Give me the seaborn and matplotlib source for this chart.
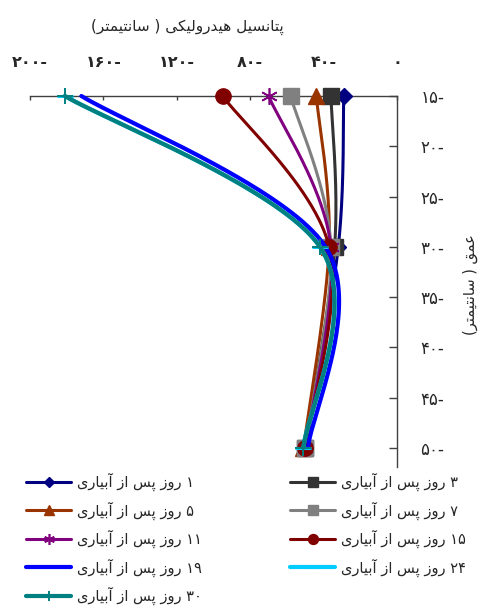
import numpy as np
import pandas as pd
import matplotlib
matplotlib.use("Agg")
import matplotlib.pyplot as plt
from matplotlib.lines import Line2D
import seaborn as sns

# ---------------- data ----------------
depths = [15, 30, 50]
day_labels = ["۱", "۳", "۵", "۷", "۱۱", "۱۵", "۱۹", "۲۴", "۳۰"]
pot_1 = [-29, -32, -50]
pot_3 = [-36, -34, -50]
pot_5 = [-44, -37, -51]
pot_7 = [-58, -36, -50]
pot_11 = [-70, -36, -50]
pot_15 = [-95, -37, -50]
pot_19 = [-172, -39, -48.5]
pot_24 = [-181, -42, -51]
pot_30 = [-181, -42, -51]
x_ticks = [-200, -160, -120, -80, -40, 0]
y_ticks = [15, 20, 25, 30, 35, 40, 45, 50]

title_text = "پتانسیل هیدرولیکی ( سانتیمتر)"
ylabel_text = "عمق ( سانتیمتر)"
legend_suffix = " روز پس از آبیاری"

# ---------------- minimal Persian shaping (matplotlib has no RTL shaping) ----------------
FORMS = {
    "آ": ("\uFE81", "\uFE82", None, None),
    "ا": ("\uFE8D", "\uFE8E", None, None),
    "ب": ("\uFE8F", "\uFE90", "\uFE91", "\uFE92"),
    "پ": ("\uFB56", "\uFB57", "\uFB58", "\uFB59"),
    "ت": ("\uFE95", "\uFE96", "\uFE97", "\uFE98"),
    "د": ("\uFEA9", "\uFEAA", None, None),
    "ر": ("\uFEAD", "\uFEAE", None, None),
    "ز": ("\uFEAF", "\uFEB0", None, None),
    "س": ("\uFEB1", "\uFEB2", "\uFEB3", "\uFEB4"),
    "ع": ("\uFEC9", "\uFECA", "\uFECB", "\uFECC"),
    "ق": ("\uFED5", "\uFED6", "\uFED7", "\uFED8"),
    "ک": ("\uFB8E", "\uFB8F", "\uFB90", "\uFB91"),
    "ل": ("\uFEDD", "\uFEDE", "\uFEDF", "\uFEE0"),
    "م": ("\uFEE1", "\uFEE2", "\uFEE3", "\uFEE4"),
    "ن": ("\uFEE5", "\uFEE6", "\uFEE7", "\uFEE8"),
    "ه": ("\uFEE9", "\uFEEA", "\uFEEB", "\uFEEC"),
    "و": ("\uFEED", "\uFEEE", None, None),
    "ی": ("\uFBFC", "\uFBFD", "\uFBFE", "\uFBFF"),
}
DIGITS = set("0123456789۰۱۲۳۴۵۶۷۸۹")
MIRROR = {"(": ")", ")": "("}


def fa_shape(text):
    chars = list(text)
    n = len(chars)
    shaped = []
    for i, c in enumerate(chars):
        if c not in FORMS:
            shaped.append(c)
            continue
        prev = chars[i - 1] if i > 0 else None
        nxt = chars[i + 1] if i < n - 1 else None
        iso, fin, ini, med = FORMS[c]
        jp = prev in FORMS and FORMS[prev][2] is not None
        jn = nxt in FORMS and ini is not None
        if jp and jn:
            shaped.append(med)
        elif jp:
            shaped.append(fin)
        elif jn:
            shaped.append(ini)
        else:
            shaped.append(iso)
    runs = []
    for c in shaped:
        if c in DIGITS and runs and runs[-1][0] == "d":
            runs[-1][1].append(c)
        else:
            runs.append(["d" if c in DIGITS else "t", [c]])
    out = []
    for kind, cs in reversed(runs):
        if kind == "d":
            out.append("".join(cs))
        else:
            out.append("".join(MIRROR.get(ch, ch) for ch in reversed(cs)))
    return "".join(out)


def fa_num(v):
    return str(v).translate(str.maketrans("0123456789", "۰۱۲۳۴۵۶۷۸۹"))


def excel_smooth(xs, ys, n=80):
    P = np.column_stack([xs, ys]).astype(float)
    m = len(P)
    out = []
    for i in range(m - 1):
        p0, p1 = P[i], P[i + 1]
        pm = P[i - 1] if i > 0 else P[i]
        p2 = P[i + 2] if i + 2 < m else P[i + 1]
        c1 = p0 + (p1 - pm) / 6.0
        c2 = p1 - (p2 - p0) / 6.0
        t = np.linspace(0, 1, n)[:, None]
        seg = (1 - t) ** 3 * p0 + 3 * (1 - t) ** 2 * t * c1 + 3 * (1 - t) * t ** 2 * c2 + t ** 3 * p1
        out.append(seg if i == 0 else seg[1:])
    return np.vstack(out)


series = [pot_1, pot_3, pot_5, pot_7, pot_11, pot_15, pot_19, pot_24, pot_30]
colors = ["#000080", "#333333", "#993300", "#808080", "#800080", "#800000", "#0000FF", "#00CCFF", "#008080"]
markers = ["D", "s", "^", "s", (6, 2, 0), "o", None, "_", "+"]
msizes = [8, 11, 11, 11, 12, 11, 0, 11, 11]
mews = [1, 1, 1, 1, 1.2, 1, 1, 2.2, 1.4]
lws = [2.2, 2.2, 2.2, 2.2, 2.2, 2.2, 3.0, 3.0, 3.0]

# ---------------- figure ----------------
sns.set_style("white")
plt.rcParams["font.family"] = ["DejaVu Sans"]

fig = plt.figure(figsize=(4.88, 6.12), dpi=100)
ax = fig.add_axes([30 / 488, 1 - 467 / 612, 367 / 488, 371 / 612])

for k, vals in enumerate(series):
    curve = excel_smooth(vals, depths)
    df = pd.DataFrame({"x": curve[:, 0], "y": curve[:, 1]})
    sns.lineplot(data=df, x="x", y="y", sort=False, estimator=None, color=colors[k],
                 lw=lws[k], ax=ax, clip_on=False, zorder=3 + 2 * k)
    if markers[k] is not None:
        ax.plot(vals, depths, linestyle="none", marker=markers[k], ms=msizes[k],
                color=colors[k], mec=colors[k], mew=mews[k], clip_on=False, zorder=4 + 2 * k)

ax.set_xlim(-200, 0)
ax.set_ylim(51.9, 15)
ax.set_xlabel("")
ax.set_ylabel("")

for s in ["left", "bottom"]:
    ax.spines[s].set_visible(False)
for s in ["top", "right"]:
    ax.spines[s].set_visible(True)
    ax.spines[s].set_color("#404040")
    ax.spines[s].set_linewidth(1.0)

ax.xaxis.tick_top()
ax.yaxis.tick_right()
ax.set_xticks(x_ticks)
ax.set_xticklabels([fa_num(abs(v)) + ("-" if v != 0 else "") for v in x_ticks],
                   fontweight="bold")
ax.set_yticks(y_ticks)
ax.set_yticklabels([fa_num(v) + "-" for v in y_ticks])
ax.tick_params(axis="x", which="both", top=True, bottom=False, direction="in",
               length=3, width=1, color="#404040", pad=19, labelsize=11.5)
ax.tick_params(axis="y", which="both", right=True, left=False, direction="in",
               length=6, width=1, color="#404040", pad=17, labelsize=12)
ax.grid(False)

fig.text(187 / 488, 1 - 27 / 612, fa_shape(title_text), ha="center", va="center", fontsize=11)
fig.text(470 / 488, 1 - 285 / 612, fa_shape(ylabel_text), ha="center", va="center",
         rotation=90, fontsize=10.5)

# legend: two columns, row-major order like the reference
handles = []
for k in range(len(series)):
    handles.append(Line2D([], [], color=colors[k], lw=lws[k],
                          marker=markers[k] if markers[k] is not None else None,
                          ms=msizes[k] * 0.65, mec=colors[k], mew=mews[k]))
labels = [fa_shape(d + legend_suffix) for d in day_labels]

left_idx = [0, 2, 4, 6, 8]
right_idx = [1, 3, 5, 7]
common = dict(frameon=False, fontsize=10.5, handlelength=3.1, handletextpad=0.4,
              labelspacing=0.70, borderpad=0, borderaxespad=0, loc="upper left")
fig.legend([handles[i] for i in left_idx], [labels[i] for i in left_idx],
           bbox_to_anchor=(26 / 488, 1 - 473 / 612), **common)
fig.legend([handles[i] for i in right_idx], [labels[i] for i in right_idx],
           bbox_to_anchor=(290 / 488, 1 - 473 / 612), **common)

fig.savefig("out.png", dpi=100)
